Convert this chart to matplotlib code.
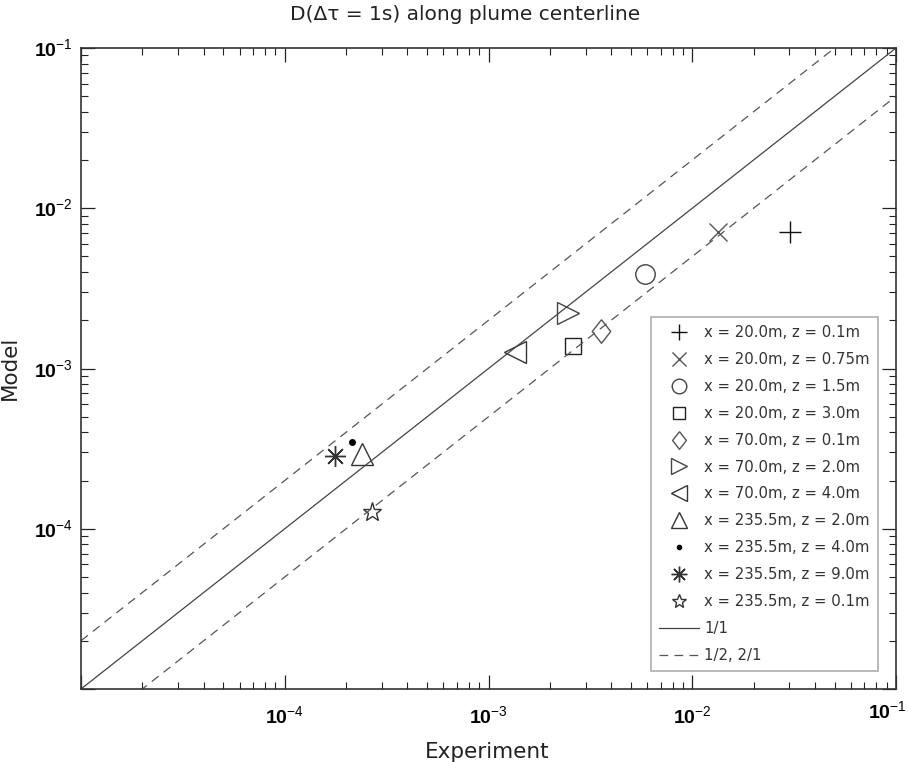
import numpy as np
import matplotlib
matplotlib.use('Agg')
import matplotlib.pyplot as plt
from matplotlib.path import Path
from matplotlib.ticker import LogLocator, FuncFormatter

# values (experiment vs model)
labels = ['x = 20.0m, z = 0.1m', 'x = 20.0m, z = 0.75m', 'x = 20.0m, z = 1.5m',
          'x = 20.0m, z = 3.0m', 'x = 70.0m, z = 0.1m', 'x = 70.0m, z = 2.0m',
          'x = 70.0m, z = 4.0m', 'x = 235.5m, z = 2.0m', 'x = 235.5m, z = 4.0m',
          'x = 235.5m, z = 9.0m', 'x = 235.5m, z = 0.1m']
experiment = [3.02e-2, 1.34e-2, 5.86e-3, 2.60e-3, 3.56e-3, 2.45e-3,
              1.35e-3, 2.39e-4, 2.14e-4, 1.77e-4, 2.68e-4]
model = [7.1e-3, 7.1e-3, 3.89e-3, 1.38e-3, 1.71e-3, 2.22e-3,
         1.27e-3, 2.92e-4, 3.47e-4, 2.84e-4, 1.27e-4]
ref_x = [1e-5, 1e-1]

diamond = Path([(0, 1), (0.78, 0), (0, -1), (-0.78, 0), (0, 1)])
markers = ['+', 'x', 'o', 's', diamond, '>', '<', '^', '.', (8, 2, 0), '*']
sizes = [16, 13, 14, 11, 17, 16, 16, 16, 5, 15, 14]
colors = ['#111111', '#555555', '#444444', '#222222', '#555555', '#444444',
          '#333333', '#333333', '#000000', '#333333', '#333333']

plt.rcParams['font.family'] = ['DejaVu Sans']
plt.rcParams['mathtext.fontset'] = 'custom'
plt.rcParams['mathtext.rm'] = 'Liberation Sans'
plt.rcParams['mathtext.bf'] = 'Liberation Sans:bold'

fig = plt.figure(figsize=(9.08, 7.62), dpi=100)
ax = fig.add_axes([81 / 908, 1 - 689 / 762, 815 / 908, 641 / 762])

for ex, mo, lab, mk, sz, c in zip(experiment, model, labels, markers, sizes, colors):
    if isinstance(mk, str) and mk == '.':
        ax.plot([ex], [mo], linestyle='none', marker='o', markersize=4,
                color='k', label=lab)
    else:
        ax.plot([ex], [mo], linestyle='none', marker=mk, markersize=sz,
                markerfacecolor='none', markeredgecolor=c, markeredgewidth=1.0,
                label=lab)

rx = np.array(ref_x)
ax.plot(rx, rx, color='#444444', lw=0.9, label='1/1')
ax.plot(rx, 2 * rx, color='#555555', lw=0.9, ls=(0, (7, 5)), label='1/2, 2/1')
ax.plot(rx, 0.5 * rx, color='#555555', lw=0.9, ls=(0, (7, 5)))

ax.set_xscale('log')
ax.set_yscale('log')
ax.set_xlim(1e-5, 1e-1)
ax.set_ylim(1e-5, 1e-1)

def fmt_y(v, pos):
    e = int(round(np.log10(v)))
    if e == -5:
        return ''
    return r'$\mathbf{10}^{%d}$' % e

def fmt_x(v, pos):
    e = int(round(np.log10(v)))
    if e == -5 or e == -1:
        return ''
    return r'$\mathbf{10}^{%d}$' % e

for axis, f in ((ax.xaxis, fmt_x), (ax.yaxis, fmt_y)):
    axis.set_major_locator(LogLocator(base=10, numticks=10))
    axis.set_minor_locator(LogLocator(base=10, subs=np.arange(2, 10), numticks=10))
    axis.set_major_formatter(FuncFormatter(f))

ax.tick_params(which='both', direction='in', top=True, right=True, colors='#222222')
ax.tick_params(which='major', length=10, width=0.9, labelsize=14, labelcolor='k')
ax.tick_params(which='minor', length=5, width=0.8)
ax.tick_params(axis='x', which='major', pad=12)
ax.tick_params(axis='y', which='major', pad=6)
for s in ax.spines.values():
    s.set_color('#333333')
    s.set_linewidth(1.2)

# right-corner x tick label, kept inside the figure
fig.text(907 / 908, 1 - 712 / 762, r'$\mathbf{10}^{-1}$', fontsize=14,
         ha='right', va='center', color='k')

fig.text(465 / 908, 1 - 14 / 762, 'D(Δτ = 1s) along plume centerline',
         fontsize=14.5, ha='center', va='center', color='#222222')
ax.set_xlabel('Experiment', fontsize=15.5, color='#222222')
ax.xaxis.set_label_coords(487 / 908, 1 - 742 / 762, transform=fig.transFigure)
ax.set_ylabel('Model', fontsize=15.5, color='#222222')
ax.yaxis.set_label_coords(20 / 908, 1 - 368 / 762, transform=fig.transFigure)

leg = ax.legend(loc='lower right', bbox_to_anchor=(878 / 908, 1 - 671 / 762),
                bbox_transform=fig.transFigure, borderaxespad=0, fontsize=10.7,
                frameon=True, fancybox=False, edgecolor='#999999', labelspacing=0.8,
                handlelength=2.7, handletextpad=0.35, borderpad=0.55,
                markerscale=0.75)
leg.get_frame().set_linewidth(1.2)
for t in leg.get_texts():
    t.set_color('#333333')

fig.savefig('out.png', dpi=100)
